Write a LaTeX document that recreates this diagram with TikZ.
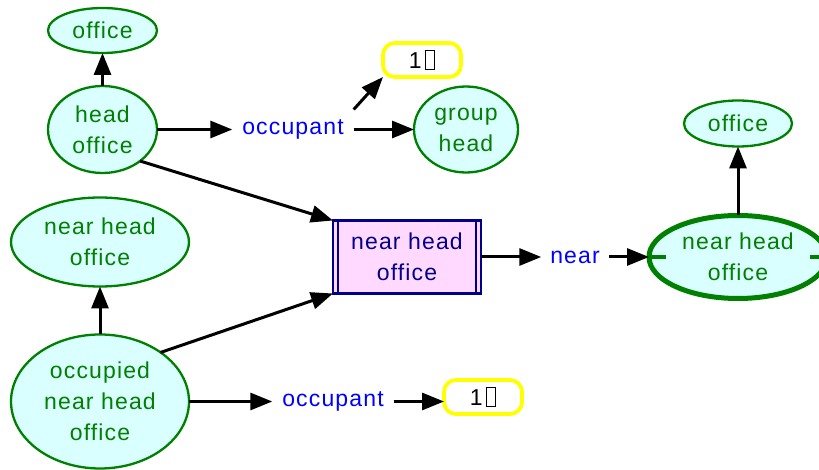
\documentclass[tikz,border=0pt]{standalone}
\usepackage{fontspec}
\setmainfont{Liberation Sans}[LetterSpace=5]
\usetikzlibrary{arrows.meta,shapes.geometric}

\definecolor{cgreen}{RGB}{0,128,0}
\definecolor{cfill}{RGB}{217,255,255}
\definecolor{cnavy}{RGB}{0,0,139}
\definecolor{cpink}{RGB}{255,217,255}
\definecolor{cblue}{RGB}{0,0,255}
\definecolor{cyellow}{RGB}{255,255,0}

% "1" followed by an empty glyph box
\newcommand{\onebox}{\raisebox{-2bp}{1\hspace{3bp}\raisebox{-1bp}{\setlength{\fboxsep}{0pt}\setlength{\fboxrule}{0.75bp}\fbox{\rule{0pt}{18.5bp}\hspace{9bp}}}}}

\tikzset{
  every node/.style={font=\fontsize{23bp}{31bp}\selectfont, align=center, inner sep=0pt, outer sep=0pt},
  concept/.style={ellipse, draw=cgreen, line width=2.3bp, fill=cfill, text=cgreen},
  relation/.style={text=cblue, inner xsep=10bp, minimum height=40bp},
  actor/.style={rectangle, draw=cnavy, line width=2.2bp, fill=cpink, text=cnavy,
                minimum width=148bp, minimum height=73bp},
  refbox/.style={rectangle, rounded corners=12bp, draw=cyellow, line width=3.8bp, fill=white,
                 minimum width=78bp, minimum height=34bp},
  link/.style={line width=3bp, -{Triangle[length=22bp,width=17bp]}},
}

\begin{document}
\begin{tikzpicture}[x=1bp,y=-1bp]
\useasboundingbox (0,0) rectangle (819,470);
\fill[white] (0,0) rectangle (819,470);
\clip (0,0) rectangle (819,470);

% concepts
\node[concept, minimum width=109bp, minimum height=45bp] (office1) at (102.5,30.5) {office};
\node[concept, minimum width=109bp, minimum height=87bp] (head) at (102.5,129.5) {head\\office};
\node[relation] (occ1) at (293,129.5) {occupant};
\node[concept, minimum width=104bp, minimum height=86bp] (group) at (466,129.5) {group\\head};
\node[refbox] (one1) at (422,60) {\onebox};

\node[actor] (nho) at (407,257) {near head\\office};
\node[relation, inner xsep=9bp] (near) at (575,257) {near};
\node[concept, line width=5bp, minimum width=178bp, minimum height=83bp] (big) at (738,257) {near head\\office};
\node[concept, minimum width=108bp, minimum height=46bp] (office2) at (738,123.5) {office};

\node[concept, minimum width=178bp, minimum height=89bp] (nhoL) at (100,242) {near head\\office};
\node[concept, minimum width=178bp, minimum height=134bp] (occupied) at (100,401.5) {occupied\\near head\\office};
\node[relation] (occ2) at (333,401.5) {occupant};
\node[refbox] (one2) at (483,397) {\onebox};

% double side bars of the actor box
\draw[cnavy, line width=1.6bp] ([xshift=5bp]nho.north west) -- ([xshift=5bp]nho.south west);
\draw[cnavy, line width=1.6bp] ([xshift=-5bp]nho.north east) -- ([xshift=-5bp]nho.south east);

% ticks on the thick concept
\draw[cgreen, line width=3.5bp] (big.west) -- ++(17,0);
\draw[cgreen, line width=3.5bp] (big.east) -- ++(-17,0);

% connectors
\draw[link] (head) -- (office1);
\draw[link] (head) -- (occ1);
\draw[link] (occ1) -- (group);
\draw[link] (occ1.north east) -- (one1.south west);
\draw[link] (head.-40) -- (nho.north west);
\draw[link] (occupied.39) -- (nho.south west);
\draw[link] (occupied) -- (nhoL);
\draw[link] (occupied) -- (occ2);
\draw[link] (occ2) -- (occ2 -| one2.west);
\draw[link] (nho) -- (near);
\draw[link] (near) -- (big);
\draw[link] (big) -- (office2);
\end{tikzpicture}
\end{document}
